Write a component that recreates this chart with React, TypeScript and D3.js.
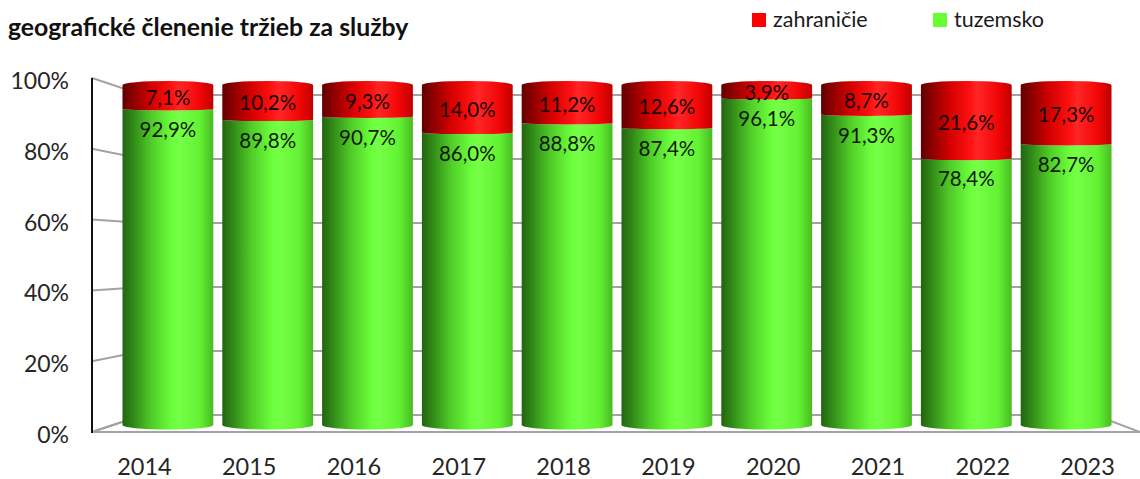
import * as d3 from "d3"
import { useEffect, useRef } from "react"

const years = ["2014", "2015", "2016", "2017", "2018", "2019", "2020", "2021", "2022", "2023"]
const tuzemsko = [92.9, 89.8, 90.7, 86.0, 88.8, 87.4, 96.1, 91.3, 78.4, 82.7]
const zahranicie = [7.1, 10.2, 9.3, 14.0, 11.2, 12.6, 3.9, 8.7, 21.6, 17.3]
const yTicks = [0, 20, 40, 60, 80, 100]
const seriesNames = ["zahraničie", "tuzemsko"]

const fmt = (v: number) => v.toFixed(1).replace(".", ",") + "%"

export default function App() {
    const svgRef = useRef<SVGSVGElement>(null)

    useEffect(() => {
        const width = 1140
        const height = 479
        const font = "Lato, 'Liberation Sans', sans-serif"

        // front plane, back wall and cylinder mid plane (3D look)
        const frontLeft = 92, frontRight = 1140
        const backLeft = 143, backRight = 1095
        const yFront = d3.scaleLinear([0, 100], [432, 78])
        const yBack = d3.scaleLinear([0, 100], [415, 95])
        const yCyl = d3.scaleLinear([0, 100], [425, 85])
        const xFront = d3.scaleBand(years, [frontLeft, frontRight])
        const xCyl = d3.scaleBand(years, [118, 1116]).paddingInner(0.09).paddingOuter(0.045)

        if (svgRef.current !== null) {
            svgRef.current.innerHTML = ""
        }

        const svg = d3.select(svgRef.current)
            .attr("width", width)
            .attr("height", height)
            .attr("viewBox", [0, 0, width, height])
            .style("font-family", font)

        const defs = svg.append("defs")
        const gradients: [string, [number, string][]][] = [
            ["gGreen", [[0, "#236510"], [0.12, "#318a18"], [0.32, "#50cc28"], [0.55, "#6cff3c"], [0.62, "#76ff48"], [0.85, "#63f233"], [1, "#48bc22"]]],
            ["gRed", [[0, "#620000"], [0.12, "#8c0000"], [0.32, "#d40000"], [0.55, "#ff1212"], [0.62, "#ff2626"], [0.85, "#f20606"], [1, "#c00000"]]],
        ]
        gradients.forEach(([id, stops]) => {
            defs.append("linearGradient")
                .attr("id", id)
                .attr("x1", 0).attr("x2", 1).attr("y1", 0).attr("y2", 0)
                .selectAll("stop")
                .data(stops)
                .join("stop")
                .attr("offset", d => d[0])
                .attr("stop-color", d => d[1])
        })

        // title
        svg.append("text")
            .attr("x", 8)
            .attr("y", 36)
            .attr("font-size", 24.8)
            .attr("font-weight", "bold")
            .attr("fill", "#111")
            .text("geografické členenie tržieb za služby")

        // legend
        const legendX = [752, 933]
        const legendColors = ["#ff0000", "#66ff33"]
        seriesNames.forEach((name, i) => {
            svg.append("rect")
                .attr("x", legendX[i]).attr("y", 13)
                .attr("width", 14).attr("height", 14)
                .attr("fill", legendColors[i])
            svg.append("text")
                .attr("x", legendX[i] + 21)
                .attr("y", 27)
                .attr("font-size", 21.5)
                .attr("fill", "#1a1a1a")
                .text(name)
        })

        // walls
        const grid = svg.append("g")
            .attr("stroke", "#a3a3a3")
            .attr("stroke-width", 2)
            .attr("fill", "none")

        grid.selectAll(".back")
            .data(yTicks.filter(t => t > 0))
            .join("line")
            .attr("x1", backLeft).attr("x2", backRight)
            .attr("y1", d => yBack(d)).attr("y2", d => yBack(d))

        grid.selectAll(".side")
            .data(yTicks)
            .join("line")
            .attr("x1", frontLeft).attr("x2", backLeft)
            .attr("y1", d => yFront(d)).attr("y2", d => yBack(d))

        // floor
        grid.append("path")
            .attr("d", `M${frontLeft},${yFront(0)}L${frontRight},${yFront(0)}L${backRight},${yBack(0)}L${backLeft},${yBack(0)}Z`)

        svg.append("line")
            .attr("x1", frontLeft).attr("x2", frontLeft)
            .attr("y1", yFront(0) + 1).attr("y2", yFront(100))
            .attr("stroke", "#111")
            .attr("stroke-width", 2)

        // y axis labels
        svg.append("g")
            .attr("font-size", 23)
            .attr("fill", "#262626")
            .attr("text-anchor", "end")
            .selectAll("text")
            .data(yTicks)
            .join("text")
            .attr("x", 69)
            .attr("y", d => yFront(d) + 11)
            .text(d => d + "%")

        // x axis labels
        svg.append("g")
            .attr("font-size", 23.5)
            .attr("fill", "#262626")
            .attr("text-anchor", "middle")
            .selectAll("text")
            .data(years)
            .join("text")
            .attr("x", d => xFront(d)! + xFront.bandwidth() / 2)
            .attr("y", 475)
            .text(d => d)

        // cylinders
        const rx = xCyl.bandwidth() / 2
        const depth = (v: number) => 1 + 3.5 * (1 - v / 100)

        const segment = (xl: number, vb: number, vt: number, topCap: boolean) => {
            const xr = xl + 2 * rx
            const yt = yCyl(vt), yb = yCyl(vb)
            const rt = topCap ? 4 : depth(vt)
            const rb = depth(vb)
            return `M${xl},${yt}` +
                `A${rx},${rt} 0 0 ${topCap ? 1 : 0} ${xr},${yt}` +
                `L${xr},${yb}` +
                `A${rx},${rb} 0 0 1 ${xl},${yb}Z`
        }

        const bars = svg.append("g")
            .selectAll("g")
            .data(years.map((y, i) => ({ year: y, t: tuzemsko[i], z: zahranicie[i] })))
            .join("g")

        bars.append("path")
            .attr("d", d => segment(xCyl(d.year)!, 0, d.t, false))
            .attr("fill", "url(#gGreen)")

        bars.append("path")
            .attr("d", d => segment(xCyl(d.year)!, d.t, 100, true))
            .attr("fill", "url(#gRed)")

        // data labels
        bars.append("text")
            .attr("x", d => xCyl(d.year)! + rx)
            .attr("y", d => (yCyl(100) + yCyl(d.t)) / 2 + 8)
            .attr("text-anchor", "middle")
            .attr("font-size", 20.5)
            .attr("fill", "#1a0000")
            .text(d => fmt(d.z))

        bars.append("text")
            .attr("x", d => xCyl(d.year)! + rx)
            .attr("y", d => yCyl(d.t) + 28)
            .attr("text-anchor", "middle")
            .attr("font-size", 20.5)
            .attr("fill", "#0d1a08")
            .text(d => fmt(d.t))
    }, [])

    return <>
        <svg ref={svgRef} style={{ position: "absolute", left: 0, top: 0, display: "block" }}></svg>
    </>
}
